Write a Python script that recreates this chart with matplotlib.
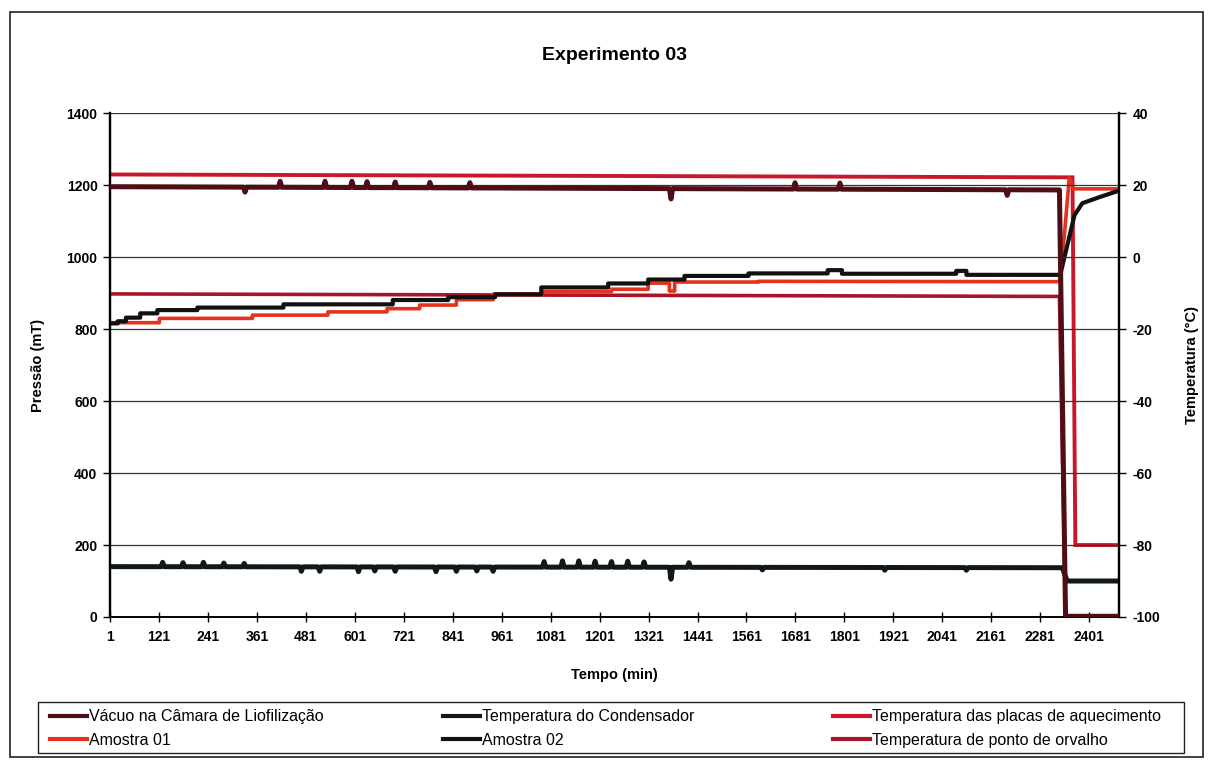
import numpy as np
import matplotlib
matplotlib.use("Agg")
import matplotlib.pyplot as plt
from matplotlib.lines import Line2D
from matplotlib.patches import Rectangle

plt.rcParams['font.family'] = ['Liberation Sans', 'DejaVu Sans']
plt.rcParams['axes.unicode_minus'] = False

W, H = 1209, 760

# ---- time axis (min) ----
t_min, t_max = 1, 2474
x_ticks = list(range(1, 2402, 120))

# ---- Vácuo na Câmara de Liofilização (mT, left axis) ----
vac_t = [1, 2328, 2343, 2474]
vac_v = [1196, 1187, 2, 2]
vac_spike_t = [332, 418, 528, 594, 631, 700, 785, 883, 1376, 1680, 1790, 2200]
vac_spike_v = [1181, 1211, 1211, 1211, 1210, 1209, 1208, 1207, 1162, 1207, 1206, 1172]

# ---- Temperatura do Condensador (°C) ----
cond_t = [1, 2335, 2347, 2474]
cond_v = [-86.0, -86.3, -90.0, -90.0]
cond_spike_t = [130, 180, 230, 280, 330, 470, 515, 610, 650, 700, 800, 850, 900, 940,
                1065, 1110, 1150, 1190, 1230, 1270, 1310, 1376, 1420, 1600, 1900, 2100]
cond_spike_v = [-84.8, -84.9, -84.8, -85.0, -85.1, -87.3, -87.3, -87.4, -87.2, -87.3, -87.4,
                -87.3, -87.2, -87.3, -84.6, -84.4, -84.4, -84.5, -84.6, -84.5, -84.7, -89.5,
                -84.9, -86.9, -87.0, -87.0]

# ---- Temperatura das placas de aquecimento (°C) ----
plate_t = [1, 2360, 2367, 2474]
plate_v = [23.0, 22.2, -80.0, -80.0]

# ---- Temperatura de ponto de orvalho (°C) ----
dew_t = [1, 2328, 2343, 2474]
dew_v = [-10.2, -10.9, -100.0, -100.0]

# ---- Amostra 01 (°C): stepped warming, then final rise ----
s1_step_t = [1, 122, 350, 535, 680, 760, 850, 940, 1060, 1230, 1320, 1372, 1385, 1590]
s1_step_v = [-18.2, -17.0, -16.1, -15.2, -14.3, -13.3, -11.8, -10.3, -9.6, -8.9, -7.2,
             -9.4, -6.9, -6.7]
s1_tail_t = [2328, 2340, 2352, 2363, 2474]
s1_tail_v = [-6.8, 6.0, 22.0, 19.0, 19.0]

# ---- Amostra 02 (°C) ----
s2_step_t = [1, 20, 40, 75, 117, 215, 426, 694, 830, 945, 1058, 1222, 1320, 1409, 1566,
             1760, 1795, 2075, 2100]
s2_step_v = [-18.4, -17.8, -16.8, -15.6, -14.7, -14.0, -13.1, -11.9, -11.1, -10.3, -8.4,
             -7.3, -6.2, -5.2, -4.5, -3.6, -4.6, -3.8, -4.9]
s2_tail_t = [2330, 2365, 2384, 2426, 2474]
s2_tail_v = [-4.9, 11.7, 15.0, 16.7, 18.5]

labels = ["Vácuo na Câmara de Liofilização", "Temperatura do Condensador",
          "Temperatura das placas de aquecimento", "Amostra 01", "Amostra 02",
          "Temperatura de ponto de orvalho"]
colors = ["#4f0d16", "#101a12", "#c8182a", "#e5321e", "#111111", "#a8142a"]


def with_spikes(kt, kv, st, sv, half=4):
    """Polyline through knots, with narrow spikes inserted at given times."""
    pts = list(zip(kt, kv))
    for t, v in zip(st, sv):
        base_l = np.interp(t - half, kt, kv)
        base_r = np.interp(t + half, kt, kv)
        pts += [(t - half, base_l), (t, v), (t + half, base_r)]
    pts.sort(key=lambda p: p[0])
    xs, ys = zip(*pts)
    return list(xs), list(ys)


def steps_tail(st, sv, tt, tv):
    """Step (hold) segments through the breakpoints, followed by a straight tail."""
    xs, ys = [st[0]], [sv[0]]
    for i in range(1, len(st)):
        xs += [st[i], st[i]]
        ys += [sv[i - 1], sv[i]]
    xs += list(tt)
    ys += list(tv)
    return xs, ys


fig = plt.figure(figsize=(W / 100, H / 100), dpi=100)
fig.patch.set_facecolor("white")

L, R, B, T = 110, 1119, 617, 113.3
ax = fig.add_axes([L / W, 1 - B / H, (R - L) / W, (B - T) / H])
ax2 = ax.twinx()

ax.set_xlim(t_min, t_max)
ax.set_ylim(0, 1400)
ax2.set_ylim(-100, 40)

ax.set_yticks(range(0, 1401, 200))
ax2.set_yticks(range(-100, 41, 20))
ax.set_xticks(x_ticks)
ax.set_xticklabels([str(v) for v in x_ticks])

for v in range(200, 1401, 200):
    ax.axhline(v, color="#333333", lw=0.9, zorder=0)

for a in (ax, ax2):
    a.spines["top"].set_visible(False)
    a.spines["left"].set_linewidth(1.6)
    a.spines["right"].set_linewidth(1.6)
    a.spines["bottom"].set_linewidth(1.2)

ax.tick_params(axis="y", direction="out", length=5, width=1, labelsize=10, pad=4)
ax2.tick_params(axis="y", direction="out", length=5, width=1, labelsize=10, pad=5)
ax.tick_params(axis="x", direction="inout", length=7, width=1, labelsize=10, pad=6)
for lab in ax.get_yticklabels() + ax2.get_yticklabels() + ax.get_xticklabels():
    lab.set_fontweight("bold")

# series
ax2.plot(dew_t, dew_v, color=colors[5], lw=2.6, zorder=3, solid_joinstyle="miter")
ax2.plot(plate_t, plate_v, color=colors[2], lw=2.8, zorder=3, solid_joinstyle="miter")

x1, y1 = steps_tail(s1_step_t, s1_step_v, s1_tail_t, s1_tail_v)
ax2.plot(x1, y1, color=colors[3], lw=2.6, zorder=4)

x2, y2 = steps_tail(s2_step_t, s2_step_v, s2_tail_t, s2_tail_v)
ax2.plot(x2, y2, color=colors[4], lw=3.0, zorder=5)

cx, cy = with_spikes(cond_t, cond_v, cond_spike_t, cond_spike_v)
ax2.plot(cx, cy, color=colors[1], lw=3.6, zorder=5)

vx, vy = with_spikes(vac_t, vac_v, vac_spike_t, vac_spike_v)
ax.plot(vx, vy, color=colors[0], lw=3.6, zorder=6)
ax.set_zorder(ax2.get_zorder() + 1)
ax.patch.set_visible(False)

fig.text(0.5 * (L + R) / W, 1 - 55 / H, "Experimento 03", ha="center", va="center",
         fontsize=14, fontweight="bold")
ax.set_xlabel("Tempo (min)", fontsize=10.5, fontweight="bold")
ax.xaxis.set_label_coords((614 - L) / (R - L), -(668 - B) / (B - T))
ax.set_ylabel("Pressão (mT)", fontsize=10.5, fontweight="bold")
ax.yaxis.set_label_coords((45 - L) / (R - L), 0.5)
ax2.set_ylabel("Temperatura (°C)", fontsize=10.5, fontweight="bold", rotation=90)
ax2.yaxis.set_label_coords((1185 - L) / (R - L), 0.5)

# outer frame
fig.patches.append(Rectangle((10 / W, 3 / H), (1203 - 10) / W, (757 - 12) / H,
                             transform=fig.transFigure, fill=False, lw=1.2,
                             edgecolor="#222222"))

# legend box and three columns
fig.patches.append(Rectangle((38 / W, 1 - 753 / H), (1184 - 38) / W, (753 - 702) / H,
                             transform=fig.transFigure, fill=False, lw=1.0,
                             edgecolor="#222222"))
col_x = [50, 443, 833]
order = [(0, 3), (1, 4), (2, 5)]
for cxp, (a, b) in zip(col_x, order):
    handles = [Line2D([], [], color=colors[a], lw=3), Line2D([], [], color=colors[b], lw=3)]
    fig.legend(handles, [labels[a], labels[b]], loc="center left",
               bbox_to_anchor=(cxp / W, 1 - 728.5 / H), frameon=False, fontsize=11.5,
               handlelength=2.3, handletextpad=0.12, borderpad=0, borderaxespad=0,
               labelspacing=0.55)

fig.savefig("out.png", dpi=100, facecolor="white")
